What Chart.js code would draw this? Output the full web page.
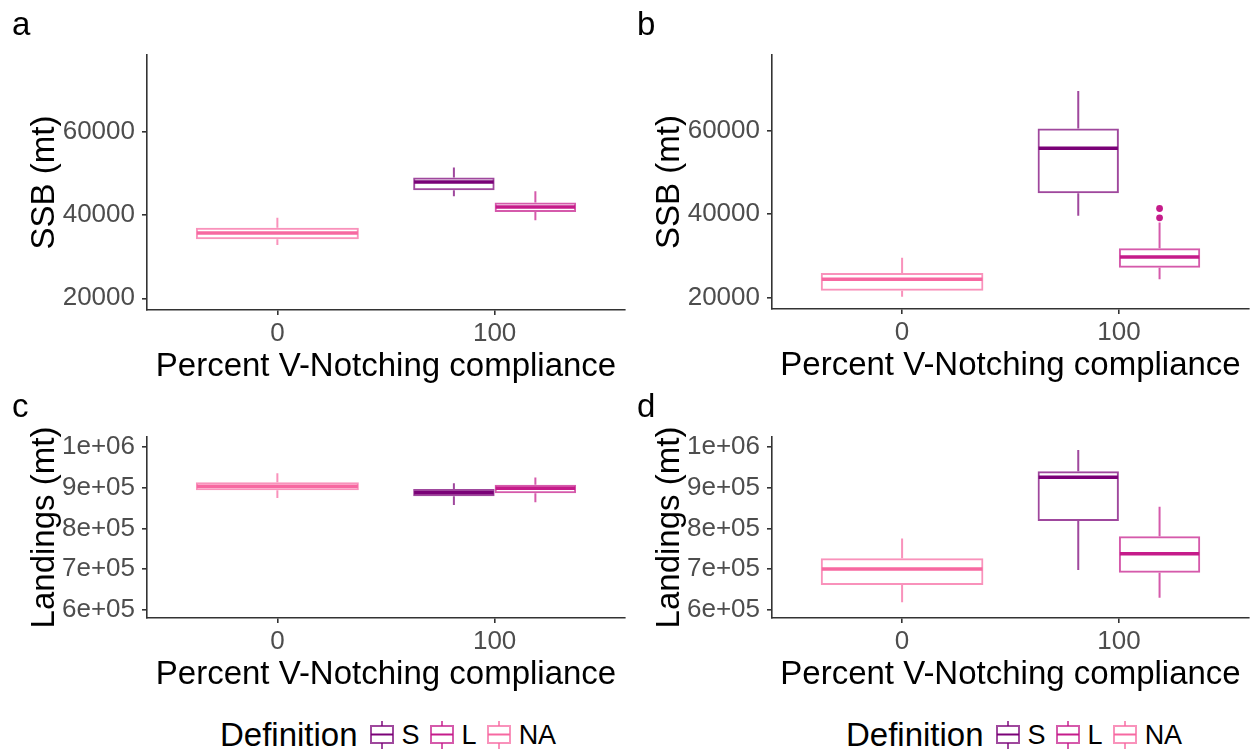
<!DOCTYPE html>
<html>
<head>
<meta charset="utf-8">
<script src="https://cdn.jsdelivr.net/npm/chart.js@4.4.1/dist/chart.umd.min.js"></script>
<style>
  body { margin: 0; background: #fff; font-family: 'Liberation Sans', Arial, sans-serif; }
  #page { position: relative; width: 1253px; height: 753px; overflow: hidden; }
  #page canvas { position: absolute; }
  .tag { position: absolute; font-size: 33px; line-height: 1; color: #000; }
  .legend { position: absolute; top: 718px; height: 34px; display: flex; align-items: center; color: #000; }
  .legend .head { font-size: 33px; margin-right: 12px; }
  .legend .lab { font-size: 27px; margin-left: 8px; margin-right: 10px; }
  .legend svg { display: block; }
</style>
</head>
<body>
<div id="page">
  <canvas id="pa"></canvas>
  <canvas id="pb"></canvas>
  <canvas id="pc"></canvas>
  <canvas id="pd"></canvas>
  <div class="tag" style="left:12px;top:7px">a</div>
  <div class="tag" style="left:637px;top:7px">b</div>
  <div class="tag" style="left:12px;top:389px">c</div>
  <div class="tag" style="left:637px;top:389px">d</div>
  <div class="legend" id="legLeft" style="left:220px"></div>
  <div class="legend" id="legRight" style="left:846px"></div>
</div>
<script>
// compliance levels on the x axis and the three definitions
const xLabels = ['0', '100'];
const groups = ['S', 'L', 'NA'];
const groupColors = ['#7A0177', '#C51B8A', '#F768A1'];
const groupEdge = ['rgba(122,1,119,0.72)', 'rgba(197,27,138,0.72)', 'rgba(247,104,161,0.72)'];
// NA is only found at 0 %, S and L only at 100 %
const groupAt = [1, 1, 0];

// box summaries: [lower whisker, Q1, median, Q3, upper whisker]
const ssbA_S = [44500, 45900, 47900, 49000, 51400];
const ssbA_L = [38700, 40700, 41900, 43000, 45700];
const ssbA_NA = [32800, 34150, 35650, 36900, 39350];

const ssbB_S = [39650, 45050, 55900, 60650, 69700];
const ssbB_L = [24350, 27150, 29700, 31850, 38000];
const ssbB_NA = [20150, 21600, 24350, 25850, 29550];
const ssbB_L_out = [39150, 41400];

const landC_S = [857000, 878500, 887500, 896500, 910500];
const landC_L = [864000, 886000, 898500, 907000, 924500];
const landC_NA = [874500, 893500, 903000, 913000, 935000];

const landD_S = [698000, 818000, 925000, 940000, 992000];
const landD_L = [630000, 691500, 738000, 780500, 853000];
const landD_NA = [619000, 661500, 700500, 726500, 775000];

const ssbTicks = [20000, 40000, 60000];
const landTicks = [600000, 700000, 800000, 900000, 1000000];

Chart.defaults.font.family = "'Liberation Sans', Arial, sans-serif";

// whiskers, medians and outlying points on top of the floating bars
const boxWhiskers = {
  id: 'boxWhiskers',
  afterDatasetsDraw(chart) {
    const ctx = chart.ctx;
    const y = chart.scales.y;
    chart.data.datasets.forEach((ds, i) => {
      const meta = chart.getDatasetMeta(i);
      meta.data.forEach((bar, j) => {
        const s = ds.stats[j];
        if (!s) return;
        const x = bar.x;
        const half = bar.width / 2;
        ctx.save();
        ctx.strokeStyle = ds.borderColor;
        ctx.lineWidth = 2;
        ctx.beginPath();
        ctx.moveTo(x, y.getPixelForValue(s[4]));
        ctx.lineTo(x, y.getPixelForValue(s[3]));
        ctx.moveTo(x, y.getPixelForValue(s[1]));
        ctx.lineTo(x, y.getPixelForValue(s[0]));
        ctx.stroke();
        ctx.strokeStyle = ds.medianColor;
        ctx.lineWidth = 3.5;
        ctx.beginPath();
        ctx.moveTo(x - half + 1, y.getPixelForValue(s[2]));
        ctx.lineTo(x + half - 1, y.getPixelForValue(s[2]));
        ctx.stroke();
        ctx.fillStyle = ds.medianColor;
        (ds.outliers[j] || []).forEach(v => {
          ctx.beginPath();
          ctx.arc(x, y.getPixelForValue(v), 3.4, 0, Math.PI * 2);
          ctx.fill();
        });
        ctx.restore();
      });
    });
  }
};

function sciLabel(v) {
  const [m, e] = Number(v).toExponential(0).split('e');
  const sign = e[0];
  const digits = e.slice(1).padStart(2, '0');
  return m + 'e' + sign + digits;
}

function drawPanel(id, box, summaries, outliers, yMin, yMax, yTicks, yTitle, fmt) {
  const canvas = document.getElementById(id);
  const w = box.right + box.padRight - box.left;
  const h = box.bottom + 80 - box.top;
  canvas.width = w;
  canvas.height = h;
  canvas.style.left = box.left + 'px';
  canvas.style.top = box.top + 'px';

  const datasets = groups.map((g, gi) => {
    const stats = [null, null];
    stats[groupAt[gi]] = summaries[gi];
    const outs = [null, null];
    outs[groupAt[gi]] = outliers[gi];
    return {
      label: g,
      data: [0, 1].map(k => ({ x: k, y: stats[k] ? [stats[k][1], stats[k][3]] : null })),
      stats: stats,
      outliers: outs,
      borderColor: groupEdge[gi],
      medianColor: groupColors[gi],
      backgroundColor: 'rgba(255,255,255,0)',
      borderWidth: 2,
      borderSkipped: false,
      skipNull: true,
      categoryPercentage: 0.75,
      barPercentage: 1
    };
  });

  const axisLine = '#333333';
  new Chart(canvas, {
    type: 'bar',
    data: { datasets },
    options: {
      responsive: false,
      animation: false,
      devicePixelRatio: 1,
      layout: { padding: { top: box.plotTop - box.top, right: box.padRight, left: 0, bottom: 0 } },
      plugins: { legend: { display: false }, tooltip: { enabled: false } },
      scales: {
        x: {
          type: 'linear',
          min: -0.6,
          max: 1.6,
          offset: false,
          afterBuildTicks: s => { s.ticks = [{ value: 0 }, { value: 1 }]; },
          afterFit: s => { s.height = 80; },
          ticks: {
            callback: (v, i) => xLabels[i],
            color: '#4D4D4D',
            font: { size: 26 },
            padding: 3,
            maxRotation: 0,
            autoSkip: false
          },
          grid: { offset: false, drawOnChartArea: false, tickLength: 5, tickColor: axisLine, lineWidth: 1.6 },
          border: { color: axisLine, width: 1.6 },
          title: {
            display: true,
            text: 'Percent V-Notching compliance',
            color: '#000',
            font: { size: 33, lineHeight: 1.2 },
            padding: { top: 0, bottom: 3 }
          }
        },
        y: {
          type: 'linear',
          min: yMin,
          max: yMax,
          afterBuildTicks: s => { s.ticks = yTicks.map(v => ({ value: v })); },
          afterFit: s => { s.width = box.plotLeft - box.left; },
          ticks: {
            callback: v => fmt(v),
            color: '#4D4D4D',
            font: { size: 26 },
            padding: 7
          },
          grid: { drawOnChartArea: false, tickLength: 5, tickColor: axisLine, lineWidth: 1.6 },
          border: { color: axisLine, width: 1.6 },
          title: {
            display: true,
            text: yTitle,
            color: '#000',
            font: { size: 33, lineHeight: 1.2 },
            padding: { top: box.plotLeft - box.left - 102.5 - 19.8, bottom: 0 }
          }
        }
      }
    },
    plugins: [boxWhiskers]
  });
}

const plain = v => String(v);

drawPanel('pa', { left: 0, top: 0, plotLeft: 147, plotTop: 55, right: 625, padRight: 1, bottom: 310 },
  [ssbA_S, ssbA_L, ssbA_NA], [null, null, null], 17200, 78350, ssbTicks, 'SSB (mt)', plain);
drawPanel('pb', { left: 626, top: 0, plotLeft: 772, plotTop: 55, right: 1249, padRight: 4, bottom: 309 },
  [ssbB_S, ssbB_L, ssbB_NA], [null, ssbB_L_out, null], 17200, 78350, ssbTicks, 'SSB (mt)', plain);
drawPanel('pc', { left: 0, top: 390, plotLeft: 147, plotTop: 437, right: 625, padRight: 1, bottom: 618 },
  [landC_S, landC_L, landC_NA], [null, null, null], 580400, 1023800, landTicks, 'Landings (mt)', sciLabel);
drawPanel('pd', { left: 626, top: 390, plotLeft: 772, plotTop: 437, right: 1249, padRight: 4, bottom: 618 },
  [landD_S, landD_L, landD_NA], [null, null, null], 580400, 1023800, landTicks, 'Landings (mt)', sciLabel);

// legend: a small box-and-whisker key for each definition
function boxIcon(edge, mid) {
  return '<svg width="24" height="28" viewBox="0 0 24 28">' +
    '<line x1="12" y1="0" x2="12" y2="5" stroke="' + edge + '" stroke-width="2"/>' +
    '<line x1="12" y1="22" x2="12" y2="28" stroke="' + edge + '" stroke-width="2"/>' +
    '<rect x="1" y="5" width="22" height="17" fill="none" stroke="' + edge + '" stroke-width="2"/>' +
    '<line x1="1" y1="13.5" x2="23" y2="13.5" stroke="' + mid + '" stroke-width="2"/>' +
    '</svg>';
}
['legLeft', 'legRight'].forEach(id => {
  const el = document.getElementById(id);
  let html = '<span class="head">Definition</span>';
  groups.forEach((g, gi) => {
    html += boxIcon(groupEdge[gi], groupColors[gi]) + '<span class="lab">' + g + '</span>';
  });
  el.innerHTML = html;
});
</script>
</body>
</html>
